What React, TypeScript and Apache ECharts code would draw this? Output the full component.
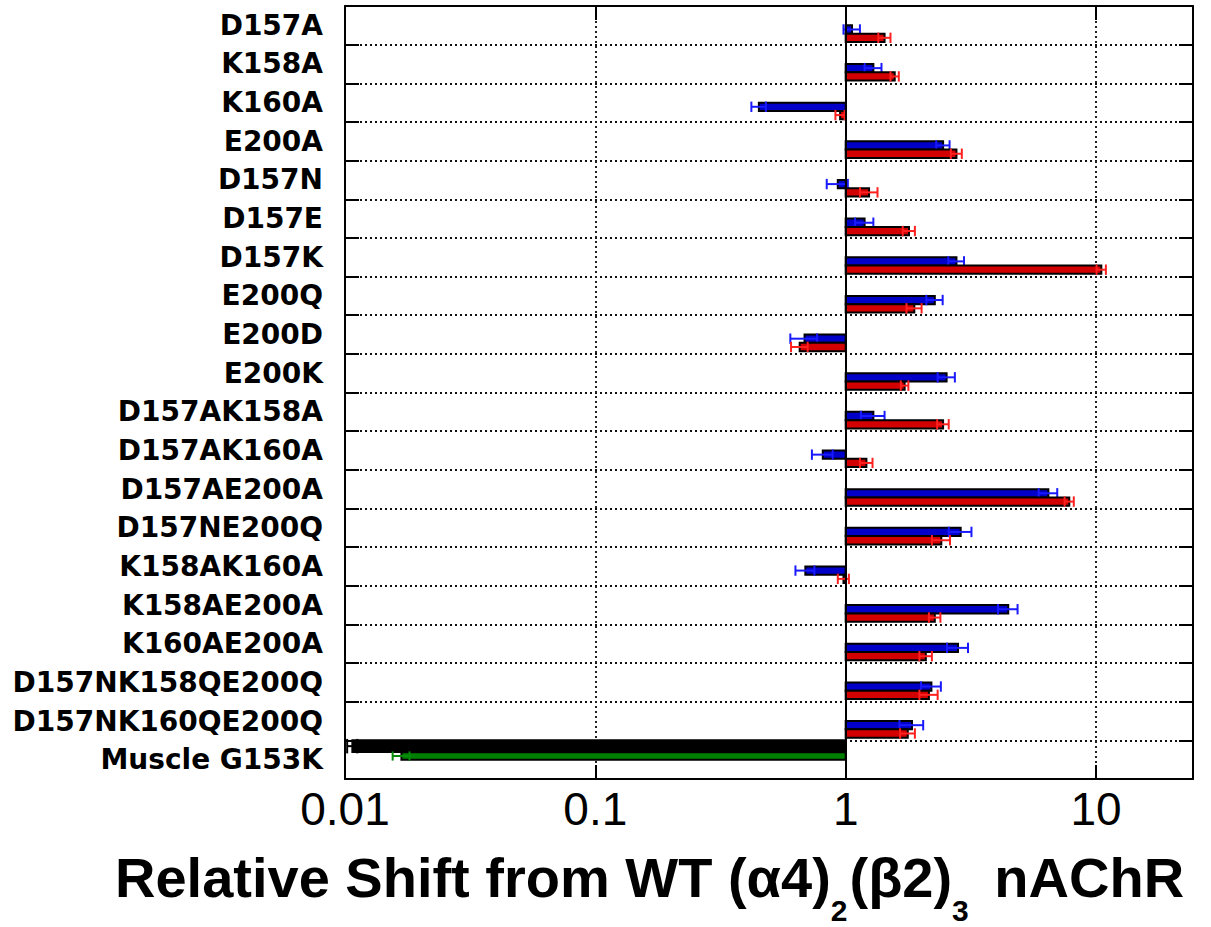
import React, { useEffect, useRef } from "react";
import * as echarts from "echarts";

const categories = [
  "D157A", "K158A", "K160A", "E200A", "D157N", "D157E", "D157K", "E200Q", "E200D", "E200K",
  "D157AK158A", "D157AK160A", "D157AE200A", "D157NE200Q", "K158AK160A", "K158AE200A",
  "K160AE200A", "D157NK158QE200Q", "D157NK160QE200Q", "Muscle G153K",
];

const blueValues = [1.06, 1.29, 0.45, 2.45, 0.93, 1.19, 2.77, 2.27, 0.685, 2.53, 1.29, 0.81, 6.45, 2.88, 0.69, 4.46, 2.81, 2.2, 1.84];
const blueErrors = [0.08, 0.1, 0.03, 0.15, 0.09, 0.1, 0.2, 0.17, 0.084, 0.2, 0.14, 0.077, 0.55, 0.3, 0.06, 0.4, 0.27, 0.2, 0.2];
const redValues = [1.43, 1.57, 0.95, 2.77, 1.24, 1.79, 10.5, 1.88, 0.655, 1.72, 2.45, 1.21, 7.82, 2.41, 0.98, 2.27, 2.09, 2.15, 1.77];
const redErrors = [0.08, 0.06, 0.04, 0.14, 0.1, 0.1, 0.45, 0.13, 0.05, 0.06, 0.13, 0.07, 0.33, 0.2, 0.05, 0.12, 0.12, 0.18, 0.12];
const muscleBlackValue = [0.0107];
const muscleBlackError = [0.0005];
const muscleGreenValue = [0.0168];
const muscleGreenError = [0.0013];
const muscleIndex = 19;

const xTicks = [0.01, 0.1, 1, 10];

// title pieces: [text, isSubscript]
const titleParts: [string, boolean][] = [
  ["Relative Shift from WT (α4)", false],
  ["2", true],
  ["(β2)", false],
  ["3", true],
  [" nAChR", false],
];

function makeRender(off0: number, off1: number, fill: string, errColor: string) {
  return (params: any, api: any) => {
    const v = api.value(0);
    const c = api.value(1);
    const e = api.value(2);
    const base = api.coord([1, c]);
    const end = api.coord([v, c]);
    const band = Math.abs(api.coord([1, 1])[1] - api.coord([1, 0])[1]);
    const y0 = base[1] + off0 * band;
    const y1 = base[1] + off1 * band;
    const ym = (y0 + y1) / 2;
    const lo = api.coord([Math.max(v - e, 1e-4), c])[0];
    const hi = api.coord([v + e, c])[0];
    const capH = (y1 - y0) * 1.25;
    const errStyle = { stroke: errColor, lineWidth: 2 };
    return {
      type: "group",
      children: [
        {
          type: "rect",
          shape: { x: Math.min(base[0], end[0]), y: y0, width: Math.abs(end[0] - base[0]), height: y1 - y0 },
          style: { fill, stroke: "#000", lineWidth: 2 },
        },
        { type: "line", shape: { x1: lo, y1: ym, x2: hi, y2: ym }, style: errStyle },
        { type: "line", shape: { x1: lo, y1: ym - capH / 2, x2: lo, y2: ym + capH / 2 }, style: errStyle },
        { type: "line", shape: { x1: hi, y1: ym - capH / 2, x2: hi, y2: ym + capH / 2 }, style: errStyle },
      ],
    };
  };
}

export default function App() {
  const ref = useRef<HTMLDivElement>(null);
  useEffect(() => {
    if (!ref.current) return;
    const chart = echarts.init(ref.current, null, { renderer: "svg" });
    const blueData = blueValues.map((v, i) => [v, i, blueErrors[i]]);
    const redData = redValues.map((v, i) => [v, i, redErrors[i]]);
    const blackData = muscleBlackValue.map((v, i) => [v, muscleIndex, muscleBlackError[i]]);
    const greenData = muscleGreenValue.map((v, i) => [v, muscleIndex, muscleGreenError[i]]);
    const fmt = (v: number) => {
      const l = Math.log10(v);
      if (Math.abs(l - Math.round(l)) > 1e-6) return "";
      const r = Math.round(l);
      const match = xTicks.find((t) => Math.abs(Math.log10(t) - r) < 1e-6);
      return match !== undefined ? String(match) : "";
    };

    // title laid out piece by piece, measured with the same fonts
    const mainSize = 56;
    const subSize = 30;
    const mainFont = `bold ${mainSize}px "Liberation Sans"`;
    const subFont = `bold ${subSize}px "Liberation Sans"`;
    const canvas = document.createElement("canvas");
    const ctx = canvas.getContext("2d")!;
    let cx = 115;
    const titleEls: any[] = [];
    titleParts.forEach(([txt, sub], i) => {
      ctx.font = sub ? subFont : mainFont;
      const w = ctx.measureText(txt).width;
      titleEls.push({
        type: "text",
        x: cx,
        y: sub ? 910 : 877,
        style: {
          text: txt,
          fontFamily: "Liberation Sans",
          fontWeight: "bold",
          fontSize: sub ? subSize : mainSize,
          fill: "#000",
          align: "left",
          verticalAlign: "middle",
        },
      });
      cx += w + (sub ? (i === titleParts.length - 2 ? 10 : 2) : 0);
    });

    const tickLine = { color: "#000", width: 2 };
    chart.setOption({
      animation: false,
      backgroundColor: "#fff",
      grid: { left: 345, right: 18, top: 6, bottom: 148, containLabel: false, outerBoundsMode: "none" },
      xAxis: [
        {
          type: "log",
          logBase: 10,
          min: 0.01,
          max: 24.4,
          position: "bottom",
          axisLine: { show: true, lineStyle: tickLine },
          axisTick: { show: true, inside: true, length: 14, lineStyle: tickLine },
          axisLabel: {
            formatter: fmt,
            fontFamily: "Liberation Sans",
            fontSize: 46,
            color: "#000",
            margin: 7,
            showMaxLabel: false,
          },
          splitLine: { show: true, lineStyle: { color: "#222", width: 2, type: [2, 3] } },
          minorTick: { show: false },
        },
        {
          type: "log",
          logBase: 10,
          min: 0.01,
          max: 24.4,
          position: "top",
          axisLine: { show: true, lineStyle: tickLine },
          axisTick: { show: true, inside: true, length: 14, lineStyle: tickLine },
          axisLabel: { show: false },
          splitLine: { show: false },
        },
      ],
      yAxis: [
        {
          type: "category",
          data: categories,
          inverse: true,
          position: "left",
          axisLine: { show: true, lineStyle: tickLine },
          axisTick: { show: true, inside: true, length: 14, lineStyle: tickLine },
          axisLabel: {
            fontFamily: "DejaVu Sans",
            fontWeight: "bold",
            fontSize: 28,
            color: "#000",
            margin: 22,
          },
          splitLine: { show: true, lineStyle: { color: "#111", width: 2, type: [2, 3] } },
        },
        {
          type: "category",
          data: categories,
          inverse: true,
          position: "right",
          axisLine: { show: true, lineStyle: tickLine },
          axisTick: { show: true, inside: true, length: 14, lineStyle: tickLine },
          axisLabel: { show: false },
          splitLine: { show: false },
        },
      ],
      series: [
        {
          type: "custom",
          name: "blue",
          xAxisIndex: 0,
          yAxisIndex: 0,
          encode: { x: 0, y: 1 },
          data: blueData,
          renderItem: makeRender(0, 0.215, "#0000c8", "#1a1aff"),
          markLine: {
            silent: true,
            symbol: "none",
            label: { show: false },
            lineStyle: { color: "#000", width: 2, type: "solid" },
            data: [{ xAxis: 1 }],
          },
          z: 3,
        },
        {
          type: "custom",
          name: "red",
          xAxisIndex: 0,
          yAxisIndex: 0,
          encode: { x: 0, y: 1 },
          data: redData,
          renderItem: makeRender(0.215, 0.43, "#d20000", "#ff2020"),
          z: 3,
        },
        {
          type: "custom",
          name: "black",
          xAxisIndex: 0,
          yAxisIndex: 0,
          encode: { x: 0, y: 1 },
          data: blackData,
          renderItem: makeRender(-0.5, -0.2, "#000", "#000"),
          z: 3,
        },
        {
          type: "custom",
          name: "green",
          xAxisIndex: 0,
          yAxisIndex: 0,
          encode: { x: 0, y: 1 },
          data: greenData,
          renderItem: makeRender(-0.19, 0, "#008000", "#0a8a0a"),
          z: 3,
        },
      ],
      graphic: titleEls,
    });
    return () => chart.dispose();
  }, []);
  return <div ref={ref} style={{ position: "fixed", left: 0, top: 0, width: 1211, height: 927 }} />;
}
